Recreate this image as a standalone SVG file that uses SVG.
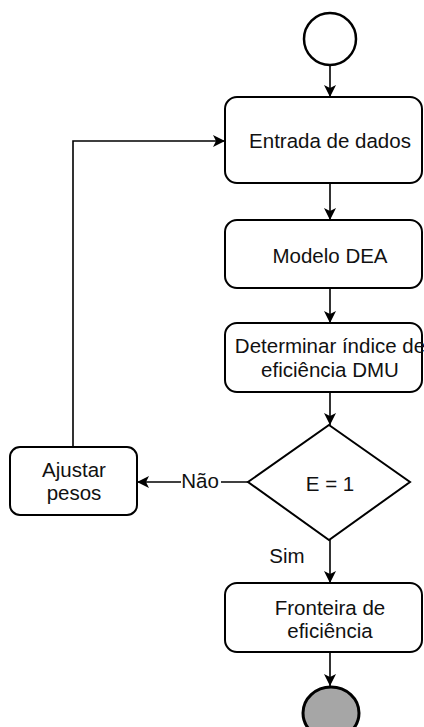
<svg xmlns="http://www.w3.org/2000/svg" width="424" height="727" viewBox="0 0 424 727">
<defs>
<style>
.box{fill:#fff;stroke:#000;stroke-width:2}
.ln{fill:none;stroke:#000;stroke-width:1.6}
text{font-family:"Liberation Sans",Arial,sans-serif;font-size:20.5px;fill:#111;text-anchor:middle}
</style>
<marker id="ar" viewBox="0 0 12 12" refX="12" refY="6" markerWidth="12" markerHeight="12" markerUnits="userSpaceOnUse" orient="auto">
<path d="M0,0 L12,6 L0,12 L3,6 Z" fill="#000"/>
</marker>
</defs>
<rect width="424" height="727" fill="#fff"/>
<g id="connectors">
<path class="ln" d="M330,65 V97" marker-end="url(#ar)"/>
<path class="ln" d="M330,183 V220" marker-end="url(#ar)"/>
<path class="ln" d="M330,288 V323" marker-end="url(#ar)"/>
<path class="ln" d="M330,392 V425" marker-end="url(#ar)"/>
<path class="ln" d="M248,482 H137" marker-end="url(#ar)"/>
<path class="ln" d="M73,447 V141 H225" marker-end="url(#ar)"/>
<path class="ln" d="M330,540 V583" marker-end="url(#ar)"/>
<path class="ln" d="M330,652 V686" marker-end="url(#ar)"/>
<rect x="181" y="470" width="40" height="24" fill="#fff"/>
<text x="200" y="488">Não</text>
<text x="287" y="563">Sim</text>
</g>
<g id="start"><circle cx="330" cy="39" r="26" fill="#fff" stroke="#000" stroke-width="2.5"/></g>
<g id="entrada"><rect class="box" x="225" y="97" width="197" height="86" rx="12"/><text x="330" y="148">Entrada de dados</text></g>
<g id="modelo"><rect class="box" x="225" y="220" width="197" height="68" rx="12"/><text x="330" y="263">Modelo DEA</text></g>
<g id="determinar"><rect class="box" x="225" y="323" width="197" height="69" rx="12"/><text x="330" y="353">Determinar índice de</text><text x="330" y="377">eficiência DMU</text></g>
<g id="decisao"><path class="box" d="M329,425 L410,482 L329,540 L248,482 Z"/><text x="330" y="491">E = 1</text></g>
<g id="ajustar"><rect class="box" x="10" y="447" width="127" height="68" rx="10"/><text x="74" y="477">Ajustar</text><text x="74" y="500">pesos</text></g>
<g id="fronteira"><rect class="box" x="225" y="583" width="197" height="69" rx="12"/><text x="330" y="615">Fronteira de</text><text x="330" y="638">eficiência</text></g>
<g id="end"><ellipse cx="331" cy="713" rx="28" ry="26" fill="#a6a6a6" stroke="#000" stroke-width="3"/></g>
</svg>
